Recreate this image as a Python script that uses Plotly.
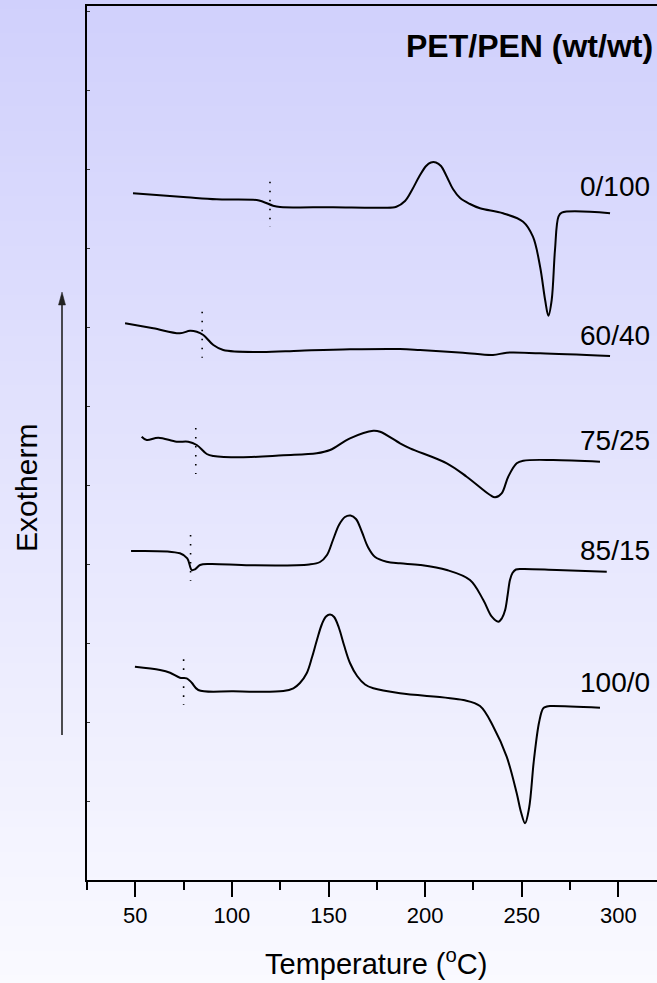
import plotly.graph_objects as go

# ---- data (temperature in degC, heat flow in arbitrary offset units) ----
labels = ["0/100", "60/40", "75/25", "85/15", "100/0"]

t_0_100 = [48.8, 76.6, 92.1, 112.8, 116.1, 121.3, 124.9, 152.3, 178.2, 185.1, 189.6, 193.2,
           196.8, 200.5, 203.0, 205.6, 208.2, 211.3, 214.4, 218.1, 223.2, 228.4, 240.3,
           250.7, 255.8, 259.5, 262.1, 263.8, 265.5, 267.2, 269.0, 270.7, 295.7]
h_0_100 = [68.67, 68.27, 68.07, 68.0, 67.83, 67.43, 67.3, 67.27, 67.23, 67.33, 67.9, 69.0,
           70.3, 71.4, 71.75, 71.75, 71.4, 70.3, 69.1, 68.2, 67.6, 67.17, 66.67,
           65.83, 64.33, 61.33, 58.0, 56.43, 58.0, 63.0, 66.33, 66.73, 66.67]

t_60_40 = [44.7, 59.3, 73.1, 78.3, 81.8, 85.2, 90.4, 95.5, 114.5, 135.2, 161.1, 187.0,
           197.4, 219.6, 235.1, 242.2, 259.5, 295.7]
h_60_40 = [55.67, 55.17, 54.67, 54.93, 54.83, 54.5, 53.5, 53.0, 52.8, 52.93, 53.07, 53.1,
           53.0, 52.73, 52.5, 52.73, 52.67, 52.4]

t_75_25 = [53.3, 55.9, 61.9, 71.4, 77.4, 81.8, 87.0, 90.4, 104.2, 126.6, 143.9, 150.8,
           161.1, 173.2, 176.7, 187.0, 192.2, 211.2, 221.5, 233.6, 236.2, 239.6, 243.0,
           247.4, 250.8, 266.3, 290.5]
h_75_25 = [44.33, 44.0, 44.23, 43.83, 43.83, 43.5, 42.6, 42.4, 42.27, 42.47, 42.67, 43.0,
           44.17, 44.93, 44.83, 43.67, 43.17, 41.67, 40.33, 38.5, 38.27, 38.67, 40.33,
           41.67, 41.93, 42.0, 41.83]

t_85_15 = [47.8, 73.1, 76.9, 79.2, 80.9, 83.5, 88.7, 109.4, 140.0, 145.6, 149.2, 152.3,
           155.4, 158.5, 161.4, 164.2, 167.3, 170.4, 174.1, 180.1, 187.0, 197.4, 211.2,
           223.2, 230.1, 234.5, 237.9, 239.8, 241.4, 242.7, 243.9, 245.2, 247.0, 250.7,
           268.1, 294.0]
h_85_15 = [32.9, 32.67, 32.17, 31.0, 31.07, 31.5, 31.6, 31.47, 31.55, 31.8, 32.5, 34.0,
           35.5, 36.3, 36.45, 36.1, 34.8, 33.3, 32.3, 31.83, 31.67, 31.5, 31.0,
           30.0, 28.0, 26.33, 25.83, 26.2, 27.0, 28.5, 30.0, 30.7, 31.05, 31.1,
           31.0, 30.83]

t_100_0 = [49.8, 62.8, 68.0, 73.1, 76.6, 79.2, 82.6, 100.7, 126.6, 131.8, 135.2, 138.7,
           141.5, 144.0, 146.6, 148.7, 150.8, 152.9, 155.4, 158.0, 161.1, 164.8, 168.9,
           173.2, 187.0, 219.8, 228.4, 235.3, 242.2, 247.4, 249.6, 251.7, 253.8, 256.3,
           259.0, 261.1, 263.0, 264.6, 290.5]
h_100_0 = [21.33, 21.0, 20.73, 20.23, 20.17, 19.73, 19.0, 18.87, 18.9, 19.17, 19.7, 20.67,
           22.3, 24.0, 25.6, 26.35, 26.55, 26.3, 25.2, 23.5, 21.7, 20.4, 19.55,
           19.17, 18.67, 18.0, 17.4, 15.33, 12.33, 8.67, 6.8, 5.67, 7.2, 12.0,
           15.8, 17.17, 17.35, 17.4, 17.23]

# glass-transition markers (dotted)
tg_temp = [119.7, 84.6, 81.3, 78.6, 75.0]
tg_top = [69.83, 56.83, 45.2, 34.5, 22.07]
tg_bottom = [65.3, 52.23, 40.6, 29.93, 17.5]

label_y = [69.33, 54.5, 44.0, 33.0, 19.73]

x_ticks = [50, 100, 150, 200, 250, 300]

series_t = [t_0_100, t_60_40, t_75_25, t_85_15, t_100_0]
series_h = [h_0_100, h_60_40, h_75_25, h_85_15, h_100_0]

FONT = "Liberation Sans, Arial, sans-serif"

fig = go.Figure()

for name, tt, hh in zip(labels, series_t, series_h):
    fig.add_trace(go.Scatter(x=tt, y=hh, mode="lines", name=name,
                             line=dict(color="black", width=2, shape="spline", smoothing=1.0),
                             showlegend=False, hoverinfo="skip"))

for tx, y0, y1 in zip(tg_temp, tg_top, tg_bottom):
    fig.add_trace(go.Scatter(x=[tx, tx], y=[y0, y1], mode="lines",
                             line=dict(color="black", width=1.6, dash="1.6px,7.4px"),
                             showlegend=False, hoverinfo="skip"))

# plot geometry
W, H = 657, 983
ML, MR, MT, MB = 87, 0, 6, 103
pw = W - ML - MR
ph = H - MT - MB


def px_x(p):
    return (p - ML) / pw


def px_y(p):
    return (H - MB - p) / ph


# gradient background strips
shapes = []
n = 120
top_c = (208, 208, 252)
bot_c = (250, 250, 255)
for i in range(n):
    f0 = i / n
    f1 = (i + 1) / n
    fm = (f0 + f1) / 2
    r = round(top_c[0] + (bot_c[0] - top_c[0]) * fm)
    g = round(top_c[1] + (bot_c[1] - top_c[1]) * fm)
    b = round(top_c[2] + (bot_c[2] - top_c[2]) * fm)
    shapes.append(dict(type="rect", xref="paper", yref="paper",
                       x0=px_x(0), x1=px_x(W + 10),
                       y0=px_y(f1 * H + 1), y1=px_y(f0 * H),
                       fillcolor=f"rgb({r},{g},{b})", line=dict(width=0), layer="below"))

# Exotherm arrow (shaft + head)
shapes.append(dict(type="line", xref="paper", yref="paper",
                   x0=px_x(62), x1=px_x(62), y0=px_y(735), y1=px_y(302),
                   line=dict(color="#222", width=1.6)))
shapes.append(dict(type="path", xref="paper", yref="paper",
                   path=f"M {px_x(62)} {px_y(292)} L {px_x(58.5)} {px_y(305)} "
                        f"L {px_x(65.5)} {px_y(305)} Z",
                   fillcolor="#222", line=dict(color="#222", width=0.5)))

annotations = []
for lab, ly in zip(labels, label_y):
    annotations.append(dict(x=317.4, y=ly, xref="x", yref="y", text=lab, showarrow=False,
                            xanchor="right", yanchor="middle",
                            font=dict(family=FONT, size=28, color="black")))

annotations.append(dict(x=px_x(529), y=px_y(46), xref="paper", yref="paper",
                        text="<b>PET/PEN (wt/wt)</b>",
                        showarrow=False, xanchor="center", yanchor="middle",
                        font=dict(family=FONT, size=32, color="black")))

annotations.append(dict(x=px_x(26), y=px_y(488), xref="paper", yref="paper",
                        text="Exotherm", textangle=-90, showarrow=False,
                        xanchor="center", yanchor="middle",
                        font=dict(family=FONT, size=30, color="black")))

# x-axis title
annotations.append(dict(x=px_x(376), y=px_y(962), xref="paper", yref="paper",
                        text="Temperature (<sup>o</sup>C)", showarrow=False,
                        xanchor="center", yanchor="middle",
                        font=dict(family=FONT, size=29, color="black")))

fig.update_layout(
    width=W, height=H,
    margin=dict(l=ML, r=MR, t=MT, b=MB, pad=0),
    paper_bgcolor="rgb(250,250,255)",
    plot_bgcolor="rgba(0,0,0,0)",
    shapes=shapes,
    annotations=annotations,
    font=dict(family=FONT, color="black"),
    showlegend=False,
)

fig.update_xaxes(range=[25, 320], tickvals=x_ticks, ticktext=[str(v) for v in x_ticks],
                 ticks="outside", ticklen=15, tickwidth=1.5, tickcolor="black",
                 minor=dict(tickvals=[25, 75, 125, 175, 225, 275], ticks="outside",
                            ticklen=8, tickwidth=1.5, tickcolor="black"),
                 showline=True, linecolor="black", linewidth=2, mirror=True,
                 showgrid=False, zeroline=False,
                 tickfont=dict(family=FONT, size=22, color="black"))
fig.update_yaxes(range=[0, 87.4], showline=True, linecolor="black", linewidth=2, mirror=False,
                 ticks="inside", ticklen=3, tickwidth=1, tickcolor="#333",
                 tick0=0, dtick=7.9, showticklabels=False,
                 showgrid=False, zeroline=False)

fig.write_html("out.html")
